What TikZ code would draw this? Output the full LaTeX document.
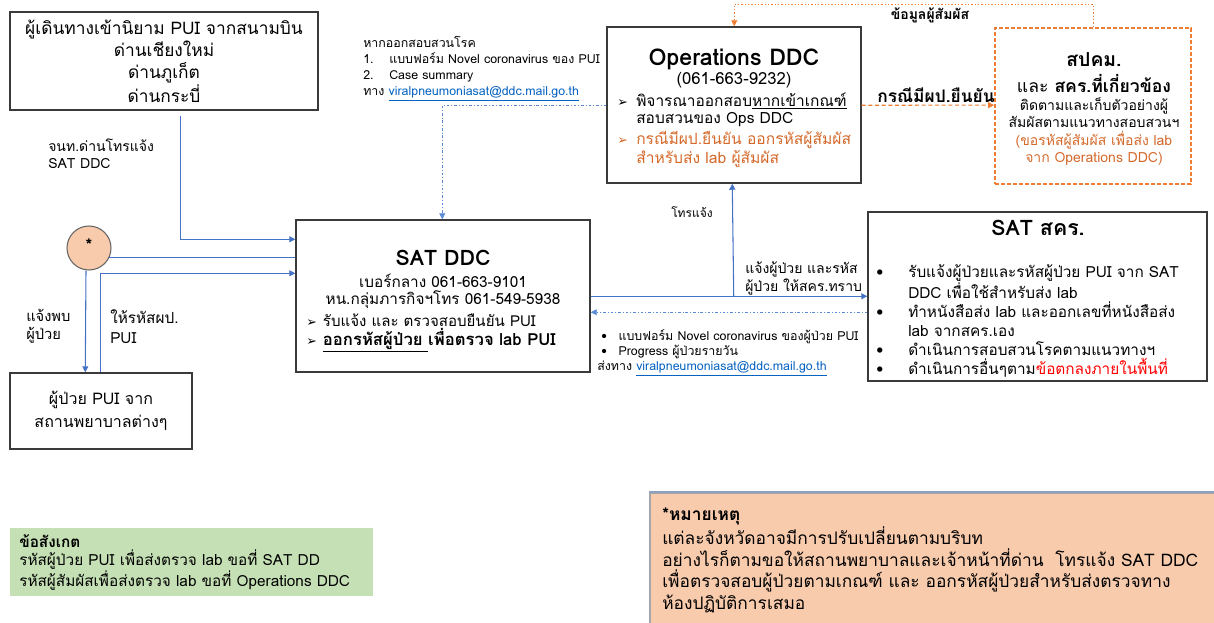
\documentclass[tikz,border=0pt]{standalone}
\usepackage{fontspec}
\setmainfont[Script=Thai]{Loma}
\newfontfamily\symf{DejaVu Sans}
\usetikzlibrary{arrows.meta,calc}
\definecolor{bluel}{HTML}{4472C4}
\definecolor{dashbl}{HTML}{5B8BD5}
\definecolor{orangel}{HTML}{ED7D31}
\definecolor{orangetx}{HTML}{D4692A}
\definecolor{redc}{HTML}{FF0000}
\definecolor{boxc}{HTML}{3A3A3A}
\definecolor{peach}{HTML}{F8CBAD}
\definecolor{greenf}{HTML}{C5E0B4}
\definecolor{linkc}{HTML}{0563C1}
\definecolor{notetop}{HTML}{8EA0C0}
\newcommand\fsz[2]{\fontsize{#1}{#2}\selectfont}
\newcommand\arrb{{\symf\fontsize{9.5}{9.5}\selectfont ➢}}
\newcommand\lnk[1]{\textcolor{linkc}{\underline{#1}}}
\begin{document}
\begin{tikzpicture}[x=0.75pt,y=-0.75pt,
  box/.style={draw=boxc,line width=1.1pt,inner sep=0pt},
  sz/.style 2 args={minimum width=#1*0.75pt,minimum height=#2*0.75pt},
  txt/.style={inner sep=0pt,align=left},
  ctxt/.style={inner sep=0pt,align=center},
  flow/.style={draw=bluel,line width=0.8pt},
  tip/.style={-{Triangle[length=4.5pt,width=4.5pt]}},
  dd/.style={draw=dashbl,line width=0.6pt,dash pattern=on 2pt off 1.5pt on 0.6pt off 1.5pt},
  od/.style={draw=orangel,line width=0.8pt,dash pattern=on 3pt off 2pt},
  odot/.style={draw=orangel,line width=0.7pt,dash pattern=on 1pt off 1.5pt}]
\useasboundingbox (0,0) rectangle (1214,622);

% boxes
\node[box,sz={308}{98},ctxt,font=\fsz{13}{16.5}] (boxA) at (164,61)
  {ผู้เดินทางเข้านิยาม PUI จากสนามบิน\\ด่านเชียงใหม่\\ด่านภูเก็ต\\ด่านกระบี่};
\node[box,sz={182}{76},ctxt,font=\fsz{12}{17}] (pat) at (101,411)
  {ผู้ป่วย PUI จาก\\สถานพยาบาลต่างๆ};
\node[box,sz={294}{152}] (sat) at (443,296) {};
\node[box,sz={254}{156}] (ops) at (734,105) {};
\node[draw=orangel,line width=1.3pt,dash pattern=on 3pt off 1.5pt,inner sep=0pt,sz={196}{156}] (sp) at (1093,106) {};
\node[box,sz={339}{169}] (scr) at (1037.5,296.5) {};
\node[circle,draw=gray!80!black,fill=peach,line width=0.8pt,minimum size=44*0.75pt,inner sep=0pt] (star) at (89,248) {};
\node[font=\fsz{13}{13}\bfseries] at (89,245) {*};

% note boxes
\node[fill=greenf,inner sep=0pt,sz={363}{68}] (green) at (191,562) {};
\node[fill=peach,draw=gray!70,line width=1.2pt,inner sep=0pt,sz={570}{132}] (note) at (935,559) {};
\draw[draw=notetop,line width=1.6pt] (note.north west) -- (note.north east);

% SAT DDC text
\node[ctxt,font=\fsz{16}{18}\bfseries] at (443,258) {SAT DDC};
\node[ctxt,font=\fsz{11.5}{14}] at (443,281) {เบอร์กลาง 061-663-9101};
\node[ctxt,font=\fsz{11.5}{14}] at (443,300) {หน.กลุ่มภารกิจฯโทร 061-549-5938};
\node[txt,anchor=west,font=\fsz{11.3}{14}] at (306,320) {\makebox[12.5pt][l]{\arrb}รับแจ้ง และ ตรวจสอบยืนยัน PUI};
\node[txt,anchor=west,font=\fsz{12.5}{14}\bfseries] at (306,340) {\makebox[12.5pt][l]{\arrb}\underline{ออกรหัสผู้ป่วย }เพื่อตรวจ lab PUI};

% Ops DDC text
\node[ctxt,font=\fsz{17.3}{18}\bfseries] at (734,59) {Operations DDC};
\node[ctxt,font=\fsz{12.5}{14}] at (734,80) {(061-663-9232)};
\node[txt,anchor=west,font=\fsz{11.6}{13}] at (617,109.5)
  {\makebox[14.25pt][l]{\arrb}พิจารณาออกสอบ\underline{หากเข้าเกณฑ์}\\\hspace*{14.25pt}สอบสวนของ Ops DDC};
\node[txt,anchor=west,font=\fsz{11.7}{14.25},text=orangetx] at (617,149.5)
  {\makebox[14.25pt][l]{\textcolor{orangetx}{\arrb}}กรณีมีผป.ยืนยัน ออกรหัสผู้สัมผัส\\\hspace*{14.25pt}สำหรับส่ง lab ผู้สัมผัส};

% sp text
\node[ctxt,font=\fsz{14.5}{15}\bfseries] at (1094,60) {สปคม.};
\node[ctxt,font=\fsz{13.2}{14}] at (1094,83) {และ \textbf{สคร.ที่เกี่ยวข้อง}};
\node[ctxt,font=\fsz{10.5}{13}] at (1094,131.5)
  {ติดตามและเก็บตัวอย่างผู้\\สัมผัสตามแนวทางสอบสวนฯ\\\textcolor{orangetx}{(ขอรหัสผู้สัมผัส เพื่อส่ง lab}\\\textcolor{orangetx}{จาก Operations DDC)}};

% SAT scr text
\node[ctxt,font=\fsz{16}{18}\bfseries] at (1038,228) {SAT สคร.};
\node[txt,anchor=west,font=\fsz{11.5}{14.25}] at (876,321)
  {\makebox[24pt][l]{•}รับแจ้งผู้ป่วยและรหัสผู้ป่วย PUI จาก SAT\\
   \hspace*{24pt}DDC เพื่อใช้สำหรับส่ง lab\\
   \makebox[24pt][l]{•}ทำหนังสือส่ง lab และออกเลขที่หนังสือส่ง\\
   \hspace*{24pt}lab จากสคร.เอง\\
   \makebox[24pt][l]{•}ดำเนินการสอบสวนโรคตามแนวทางฯ\\
   \makebox[24pt][l]{•}ดำเนินการอื่นๆตาม\textcolor{redc}{ข้อตกลงภายในพื้นที่}};

% top-middle text
\node[txt,anchor=west,font=\fsz{9.3}{12}] at (363,69)
  {หากออกสอบสวนโรค\\
   \makebox[19.5pt][l]{1.}แบบฟอร์ม Novel coronavirus ของ PUI\\
   \makebox[19.5pt][l]{2.}Case summary\\
   ทาง \lnk{viralpneumoniasat@ddc.mail.go.th}};

% bottom-middle text
\node[txt,anchor=west,font=\fsz{9.3}{11.25}] at (597,353)
  {\hspace*{3pt}\makebox[13pt][l]{•}แบบฟอร์ม Novel coronavirus ของผู้ป่วย PUI\\
   \hspace*{3pt}\makebox[13pt][l]{•}Progress ผู้ป่วยรายวัน\\
   ส่งทาง \lnk{viralpneumoniasat@ddc.mail.go.th}};

% labels
\node[txt,anchor=west,font=\fsz{10.5}{12.75}] (l1) at (48,153.5) {จนท.ด่านโทรแจ้ง\\SAT DDC};
\node[txt,anchor=west,font=\fsz{11}{13.5}] (l2) at (26,326) {แจ้งพบ\\ผู้ป่วย};
\node[txt,anchor=west,font=\fsz{11.5}{15}] (l3) at (110,327) {ให้รหัสผป.\\PUI};
\node[ctxt,font=\fsz{9}{12}] (l4) at (692,212) {โทรแจ้ง};
\node[txt,anchor=west,font=\fsz{10.5}{13.5}] (l5) at (745,278) {แจ้งผู้ป่วย และรหัส\\ผู้ป่วย ให้สคร.ทราบ};
\node[ctxt,font=\fsz{13}{13}\bfseries] (l6) at (936,95) {กรณีมีผป.ยืนยัน};
\node[ctxt,font=\fsz{10.5}{11}\bfseries] (l7) at (930,15) {ข้อมูลผู้สัมผัส};

% notes text
\node[txt,anchor=west,font=\fsz{11.5}{13.5}] at (19,563)
  {\textbf{ข้อสังเกต}\\รหัสผู้ป่วย PUI เพื่อส่งตรวจ lab ขอที่ SAT DD\\รหัสผู้สัมผัสเพื่อส่งตรวจ lab ขอที่ Operations DDC};
\node[txt,anchor=west,font=\fsz{13}{16.3}] at (662,560.5)
  {\textbf{*หมายเหตุ}\\แต่ละจังหวัดอาจมีการปรับเปลี่ยนตามบริบท\\อย่างไรก็ตามขอให้สถานพยาบาลและเจ้าหน้าที่ด่าน\ \ โทรแจ้ง SAT DDC\\เพื่อตรวจสอบผู้ป่วยตามเกณฑ์ และ ออกรหัสผู้ป่วยสำหรับส่งตรวจทาง\\ห้องปฏิบัติการเสมอ};

% connectors
\draw[flow,tip] ($(boxA.south west)+(171,5)$) |- ($(sat.north west)+(0,20)$);
\draw[flow] (star.-26) -- (star.-26 -| sat.west);
\draw[flow,tip] ($(pat.north west)+(91,0)$) |- ($(sat.north west)+(0,54)$);
\draw[flow,tip] ($(star.south)+(-3,0)$) -- ($(pat.north west)+(76,0)$);
\draw[dd,tip] ($(ops.north west)+(0,79)$) -| ($(sat.north west)+(147,0)$);
\draw[flow,tip] ($(sat.north east)+(0,77)$) -- ($(scr.north west)+(0,85)$);
\draw[flow,tip] ($(sat.north east)+(143,77)$) -- ($(ops.south west)+(126,0)$);
\draw[dd,tip] ($(scr.north west)+(0,101)$) -- ($(sat.north east)+(0,93)$);
\draw[od,tip] ($(ops.north east)+(0,79)$) -- ($(sp.north west)+(0,78)$);
\draw[odot,tip] ($(sp.north west)+(99,0)$) -- ++(0,-23) -| ($(ops.north west)+(128,0)$);
\end{tikzpicture}
\end{document}
